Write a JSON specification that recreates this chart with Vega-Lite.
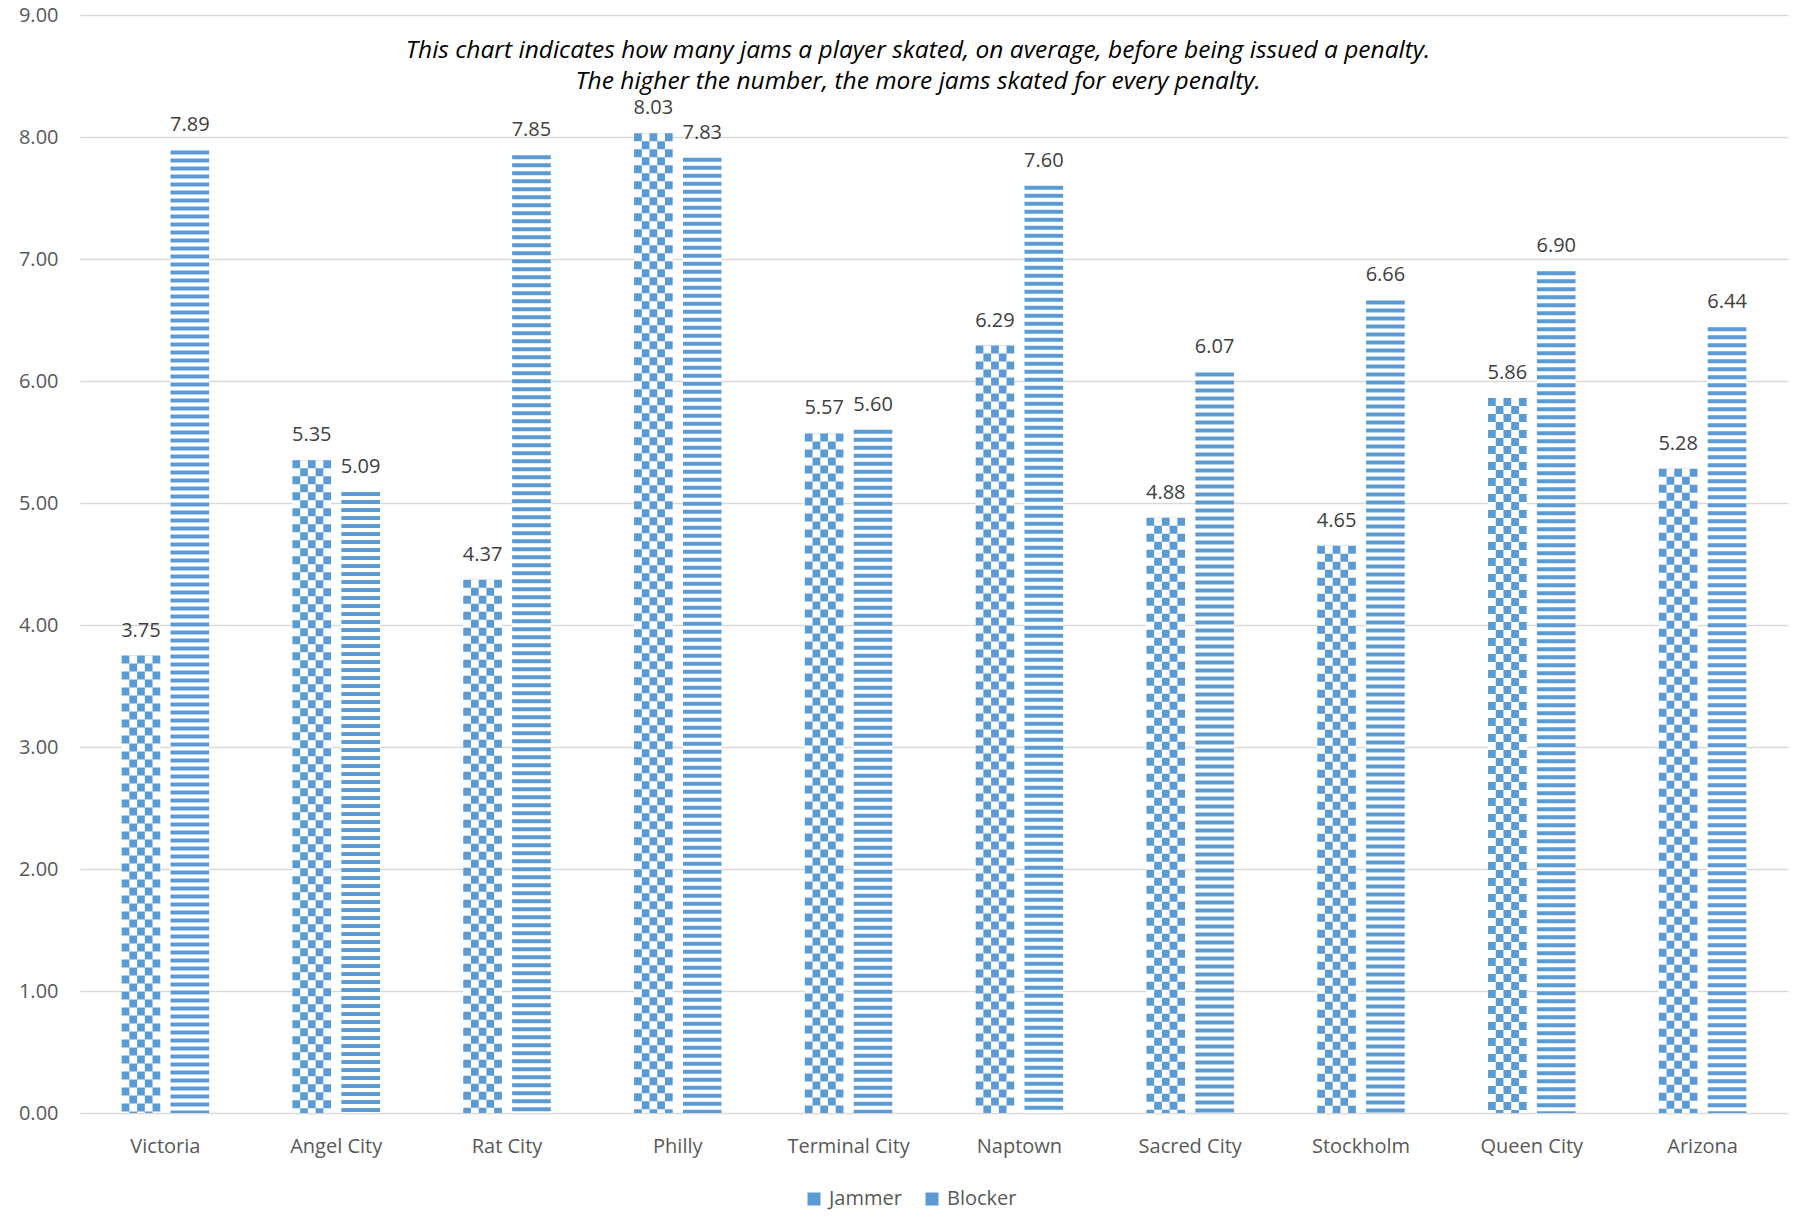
{
  "$schema": "https://vega.github.io/schema/vega-lite/v6.json",
  "width": 1708,
  "height": 1098,
  "autosize": {"type": "none"},
  "padding": {"left": 80, "top": 15, "right": 8, "bottom": 104},
  "background": "#ffffff",
  "config": {"view": {"stroke": null}},
  "title": {
    "text": ["This chart indicates how many jams a player skated, on average, before being issued a penalty.", "The higher the number, the more jams skated for every penalty."],
    "anchor": "middle",
    "frame": "group",
    "font": "Open Sans",
    "fontSize": 24.5,
    "fontStyle": "italic",
    "fontWeight": "normal",
    "color": "#000000",
    "lineHeight": 31,
    "baseline": "top",
    "dy": 93,
    "dx": -16
  },
  "data": {
    "values": [
      {"team": "Victoria", "type": "Jammer", "value": 3.75},
      {"team": "Victoria", "type": "Blocker", "value": 7.89},
      {"team": "Angel City", "type": "Jammer", "value": 5.35},
      {"team": "Angel City", "type": "Blocker", "value": 5.09},
      {"team": "Rat City", "type": "Jammer", "value": 4.37},
      {"team": "Rat City", "type": "Blocker", "value": 7.85},
      {"team": "Philly", "type": "Jammer", "value": 8.03},
      {"team": "Philly", "type": "Blocker", "value": 7.83},
      {"team": "Terminal City", "type": "Jammer", "value": 5.57},
      {"team": "Terminal City", "type": "Blocker", "value": 5.60},
      {"team": "Naptown", "type": "Jammer", "value": 6.29},
      {"team": "Naptown", "type": "Blocker", "value": 7.60},
      {"team": "Sacred City", "type": "Jammer", "value": 4.88},
      {"team": "Sacred City", "type": "Blocker", "value": 6.07},
      {"team": "Stockholm", "type": "Jammer", "value": 4.65},
      {"team": "Stockholm", "type": "Blocker", "value": 6.66},
      {"team": "Queen City", "type": "Jammer", "value": 5.86},
      {"team": "Queen City", "type": "Blocker", "value": 6.90},
      {"team": "Arizona", "type": "Jammer", "value": 5.28},
      {"team": "Arizona", "type": "Blocker", "value": 6.44}
    ]
  },
  "encoding": {
    "x": {
      "field": "team",
      "type": "nominal",
      "sort": null,
      "scale": {"paddingInner": 0.4877, "paddingOuter": 0.24385},
      "axis": {
        "title": null,
        "domain": false,
        "ticks": false,
        "labelAngle": 0,
        "labelFont": "Open Sans",
        "labelFontSize": 20,
        "labelColor": "#595959",
        "labelPadding": 23,
        "labelBaseline": "top"
      }
    },
    "xOffset": {
      "field": "type",
      "type": "nominal",
      "scale": {"domain": ["Jammer", "Blocker"], "paddingInner": 0.21, "paddingOuter": 0}
    },
    "y": {
      "field": "value",
      "type": "quantitative",
      "scale": {"domain": [0, 9], "nice": false},
      "axis": {
        "title": null,
        "values": [0, 1, 2, 3, 4, 5, 6, 7, 8, 9],
        "format": ".2f",
        "domain": false,
        "ticks": false,
        "gridColor": "#D9D9D9",
        "gridWidth": 1.5,
        "labelFont": "Open Sans",
        "labelFontSize": 20,
        "labelColor": "#595959",
        "labelPadding": 22
      }
    }
  },
  "layer": [
    {
      "mark": {"type": "bar", "fill": "#ffffff"},
      "encoding": {
        "color": {
          "field": "type",
          "type": "nominal",
          "scale": {"domain": ["Jammer", "Blocker"], "range": ["#5B9BD5", "#5B9BD5"]},
          "legend": {
            "title": null,
            "orient": "none",
            "legendX": 724,
            "legendY": 1174,
            "direction": "horizontal",
            "symbolType": "square",
            "symbolSize": 169,
            "symbolStrokeWidth": 0,
            "labelFont": "Open Sans",
            "labelFontSize": 20,
            "labelColor": "#595959",
            "labelOffset": 5,
            "columnPadding": 20,
            "encode": {
              "symbols": {
                "update": {
                  "fill": [
                    {"test": "datum.value === 'Jammer'", "value": {"gradient": "linear", "x1": 0, "y1": 1, "x2": 1, "y2": 0, "stops": [{"offset": 0, "color": "#ffffff"}, {"offset": 0.4, "color": "#ffffff"}, {"offset": 0.4, "color": "#5B9BD5"}, {"offset": 1, "color": "#5B9BD5"}]}},
                    {"value": {"gradient": "linear", "x1": 0, "y1": 0, "x2": 0, "y2": 1, "stops": [{"offset": 0, "color": "#5B9BD5"}, {"offset": 0.2, "color": "#5B9BD5"}, {"offset": 0.2, "color": "#ffffff"}, {"offset": 0.4, "color": "#ffffff"}, {"offset": 0.4, "color": "#5B9BD5"}, {"offset": 0.6, "color": "#5B9BD5"}, {"offset": 0.6, "color": "#ffffff"}, {"offset": 0.8, "color": "#ffffff"}, {"offset": 0.8, "color": "#5B9BD5"}, {"offset": 1, "color": "#5B9BD5"}]}}
                  ]
                }
              }
            }
          }
        }
      }
    },
    {
      "transform": [{"filter": "datum.type === 'Blocker'"}],
      "mark": {"type": "rule", "stroke": "#5B9BD5", "strokeWidth": 38.6, "strokeCap": "butt", "strokeDash": [4, 4]},
      "encoding": {
        "y2": {"datum": 0}
      }
    },
    {
      "transform": [{"filter": "datum.type === 'Jammer'"}],
      "mark": {"type": "rule", "stroke": "#5B9BD5", "strokeWidth": 38.6, "strokeCap": "butt", "strokeDash": [8, 8]},
      "encoding": {
        "y2": {"datum": 0}
      }
    },
    {
      "transform": [{"filter": "datum.type === 'Jammer'"}],
      "mark": {"type": "rule", "stroke": "#ffffff", "strokeWidth": 23.16, "strokeCap": "butt"},
      "encoding": {
        "y2": {"datum": 0}
      }
    },
    {
      "transform": [{"filter": "datum.type === 'Jammer'"}],
      "mark": {"type": "rule", "stroke": "#5B9BD5", "strokeWidth": 23.16, "strokeCap": "butt", "strokeDash": [8, 8], "strokeDashOffset": 8},
      "encoding": {
        "y2": {"datum": 0}
      }
    },
    {
      "transform": [{"filter": "datum.type === 'Jammer'"}],
      "mark": {"type": "rule", "stroke": "#ffffff", "strokeWidth": 7.72, "strokeCap": "butt"},
      "encoding": {
        "y2": {"datum": 0}
      }
    },
    {
      "transform": [{"filter": "datum.type === 'Jammer'"}],
      "mark": {"type": "rule", "stroke": "#5B9BD5", "strokeWidth": 7.72, "strokeCap": "butt", "strokeDash": [8, 8]},
      "encoding": {
        "y2": {"datum": 0}
      }
    },
    {
      "mark": {"type": "text", "font": "Open Sans", "fontSize": 20, "color": "#404040", "baseline": "alphabetic", "dy": -19},
      "encoding": {
        "text": {"field": "value", "type": "quantitative", "format": ".2f"}
      }
    }
  ]
}
